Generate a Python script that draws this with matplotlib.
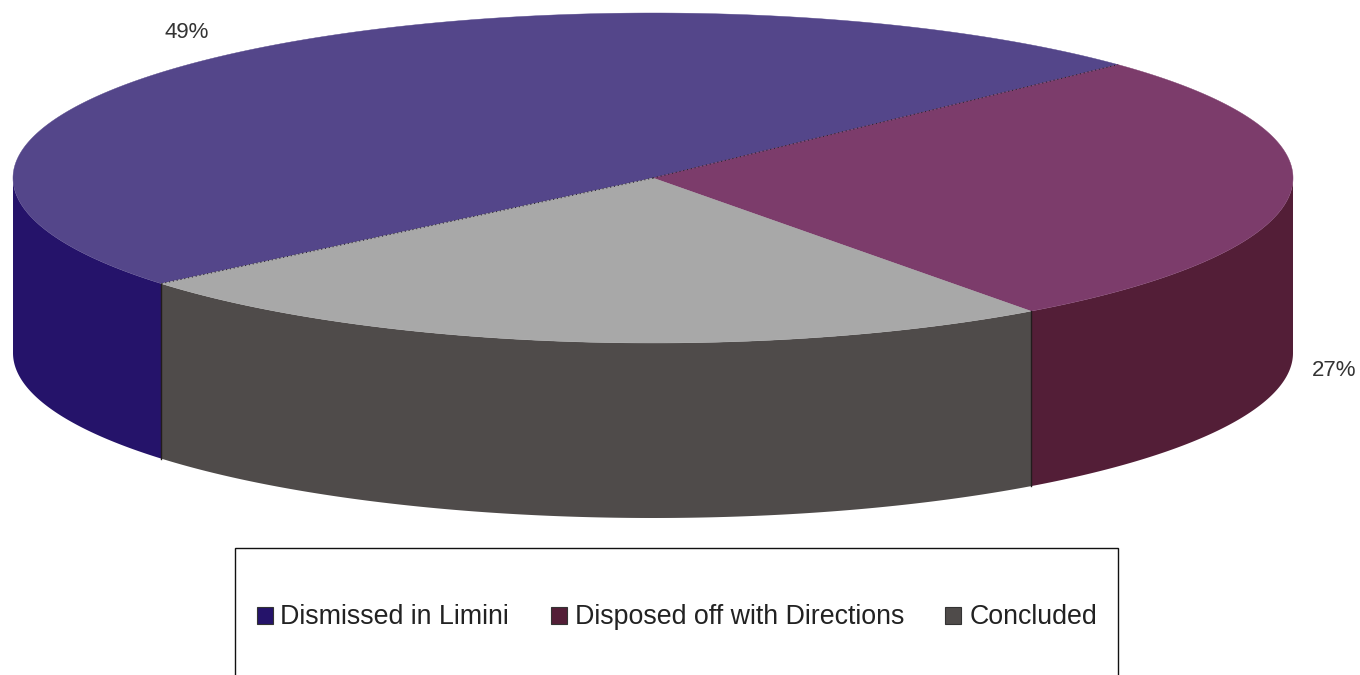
import matplotlib

matplotlib.use("Agg")
import matplotlib.pyplot as plt
from matplotlib.patches import Polygon, Rectangle
import numpy as np

labels = ["Dismissed in Limini", "Disposed off with Directions", "Concluded"]
values = [49, 27, 24]
shown_pct = ["49%", "27%", None]
top_colors = ["#54468a", "#7c3c6b", "#a8a8a8"]
side_colors = ["#25136a", "#531e37", "#4f4b4a"]

# pie geometry, in pixels
CX, CY = 653, 178
RX, RY = 640, 165
DEPTH = 175
START = 219.8

plt.rcParams["font.family"] = ["Liberation Sans", "DejaVu Sans"]

fig = plt.figure(figsize=(13.6, 6.75), dpi=100)
ax = fig.add_axes([0, 0, 1, 1])
ax.set_xlim(0, 1360)
ax.set_ylim(675, 0)
ax.axis("off")


def rim(t):
    return CX + RX * np.cos(t), CY - RY * np.sin(t)


# slices run clockwise from the start angle
sweep = np.array(values) / sum(values) * 360
ends = START - np.cumsum(sweep)
starts = ends + sweep

for a0, a1, top, side in zip(starts, ends, top_colors, side_colors):
    t = np.radians(np.linspace(a0, a1, 300))
    x, y = rim(t)

    # outer wall: only the part facing the viewer
    front = np.sin(t) <= 0
    if front.any():
        fx, fy = x[front], y[front]
        wall = np.column_stack(
            [np.r_[fx, fx[::-1]], np.r_[fy, fy[::-1] + DEPTH]]
        )
        ax.add_patch(Polygon(wall, closed=True, fc=side, ec="none", zorder=2))

    face = np.column_stack([np.r_[CX, x], np.r_[CY, y]])
    ax.add_patch(Polygon(face, closed=True, fc=top, ec=top, lw=0.3, zorder=3))

# seams where the slices meet
for i, a in enumerate(starts):
    x, y = rim(np.radians(a))
    if np.sin(np.radians(a)) < 0:
        ax.plot([x, x], [y, y + DEPTH], color="#221c1c", lw=1.0, zorder=4)
    if i != 2:
        ax.plot([CX, x], [CY, y], color="#2a2430", lw=0.8, ls=(0, (1, 2.5)), zorder=4)

# percentage labels
ax.text(187, 32, shown_pct[0], fontsize=16, color="#333333", ha="center", va="center")
ax.text(1334, 370, shown_pct[1], fontsize=16, color="#333333", ha="center", va="center")

# legend box runs off the bottom edge
ax.add_patch(Rectangle((234.5, 547.5), 883, 140, fc="white", ec="#111111", lw=1.0, zorder=5))
swatch_x = [257, 551, 945]
text_x = [280, 575, 970]
for sx, tx, lab, col in zip(swatch_x, text_x, labels, side_colors):
    ax.add_patch(Rectangle((sx, 607), 16, 17, fc=col, ec="#333333", lw=0.8, zorder=6))
    ax.text(tx, 617, lab, fontsize=19.3, color="#222222", ha="left", va="center", zorder=6)

fig.savefig("out.png", dpi=100)
plt.close(fig)
